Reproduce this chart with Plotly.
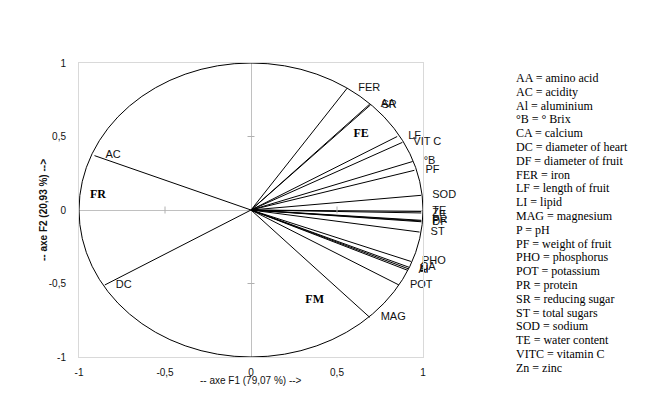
import plotly.graph_objects as go

# correlation circle, variables on F1 / F2
var_names = ["AC", "DC", "FER", "AA", "SR", "LF", "VIT C", "°B", "PF", "SOD",
             "TE", "Zn", "PR", "P", "DF", "ST", "PHO", "CA", "LI", "Al", "POT", "MAG"]
f1 = [-0.91, -0.85, 0.56, 0.69, 0.695, 0.85, 0.88, 0.94, 0.95, 0.99,
      0.99, 0.99, 0.99, 0.99, 0.99, 0.98, 0.93, 0.92, 0.915, 0.91, 0.86, 0.69]
f2 = [0.37, -0.51, 0.83, 0.72, 0.715, 0.50, 0.46, 0.33, 0.27, 0.10,
      -0.01, -0.02, -0.07, -0.075, -0.08, -0.15, -0.35, -0.39, -0.40, -0.41, -0.51, -0.73]

# groups
group_names = ["FE", "FR", "FM"]
group_x = [0.64, -0.89, 0.37]
group_y = [0.52, 0.10, -0.61]

tick_vals = [-1, -0.5, 0, 0.5, 1]
tick_text = ["-1", "-0,5", "0", "0,5", "1"]

legend_lines = ["AA = amino acid", "AC = acidity", "Al = aluminium", "°B = ° Brix",
                "CA = calcium", "DC = diameter of heart", "DF = diameter of fruit",
                "FER = iron", "LF = length of fruit", "LI = lipid", "MAG = magnesium",
                "P = pH", "PF = weight of fruit", "PHO = phosphorus", "POT = potassium",
                "PR = protein", "SR = reducing sugar", "ST = total sugars",
                "SOD = sodium", "TE = water content", "VITC = vitamin C", "Zn = zinc"]

SANS = "Liberation Sans, Arial"
SERIF = "Liberation Serif, Times New Roman"

# vectors from the origin
lx, ly = [], []
for x, y in zip(f1, f2):
    lx += [0, x, None]
    ly += [0, y, None]

fig = go.Figure()
fig.add_shape(type="circle", xref="x", yref="y", x0=-1, y0=-1, x1=1, y1=1,
              line=dict(color="black", width=1))
fig.add_trace(go.Scatter(x=lx, y=ly, mode="lines", line=dict(color="black", width=1),
                         hoverinfo="skip", cliponaxis=False))
fig.add_trace(go.Scatter(x=f1, y=f2, mode="markers+text", text=var_names,
                         textposition="middle right", cliponaxis=False,
                         marker=dict(size=16, color="rgba(0,0,0,0)"),
                         textfont=dict(family=SANS, size=11, color="#111")))
fig.add_trace(go.Scatter(x=group_x, y=group_y, mode="text", text=group_names,
                         texttemplate="<b>%{text}</b>",
                         textfont=dict(family=SERIF, size=12, color="black")))
# small ticks on the zero lines
fig.add_trace(go.Scatter(x=[-0.5, 0.5], y=[0, 0], mode="markers",
                         marker=dict(symbol="line-ns", size=5,
                                     line=dict(color="#b0b0b0", width=1)),
                         hoverinfo="skip"))
fig.add_trace(go.Scatter(x=[0, 0], y=[-0.5, 0.5], mode="markers",
                         marker=dict(symbol="line-ew", size=5,
                                     line=dict(color="#b0b0b0", width=1)),
                         hoverinfo="skip"))

for i, line in enumerate(legend_lines):
    fig.add_annotation(text=line, xref="paper", yref="paper",
                       x=(514 - 79) / 344, y=(357 - (78 + 13.8 * i)) / 294,
                       xanchor="left", yanchor="middle", showarrow=False,
                       font=dict(family=SERIF, size=12, color="black"))

# axis titles
fig.add_annotation(text="-- axe F1 (79,07 %) -->", xref="paper", yref="paper",
                   x=0.5, y=-23 / 294, xanchor="center", yanchor="middle",
                   showarrow=False, font=dict(family=SANS, size=10, color="#111"))
fig.add_annotation(text="<b>-- axe F2 (20,93 %) --></b>", xref="paper", yref="paper",
                   x=-36 / 344, y=0.5, xanchor="center", yanchor="middle",
                   textangle=-90, showarrow=False,
                   font=dict(family=SANS, size=10, color="#111"))

axis_common = dict(range=[-1, 1], tickvals=tick_vals, ticktext=tick_text,
                   showgrid=False, automargin=False,
                   zeroline=True, zerolinecolor="#c0c0c0", zerolinewidth=1,
                   showline=True, linecolor="#d9d9d9", linewidth=1, mirror=True,
                   ticks="", tickfont=dict(family=SANS, size=10, color="#111"))
fig.update_xaxes(**axis_common, ticklabelstandoff=6)
fig.update_yaxes(**axis_common, ticklabelstandoff=10)

# page body adds 8 px, so margins are shifted to keep the plot where it belongs
fig.update_layout(width=660, height=419,
                  margin=dict(l=71, r=245, t=55, b=70),
                  paper_bgcolor="white", plot_bgcolor="white",
                  showlegend=False)
fig.write_html("out.html")
